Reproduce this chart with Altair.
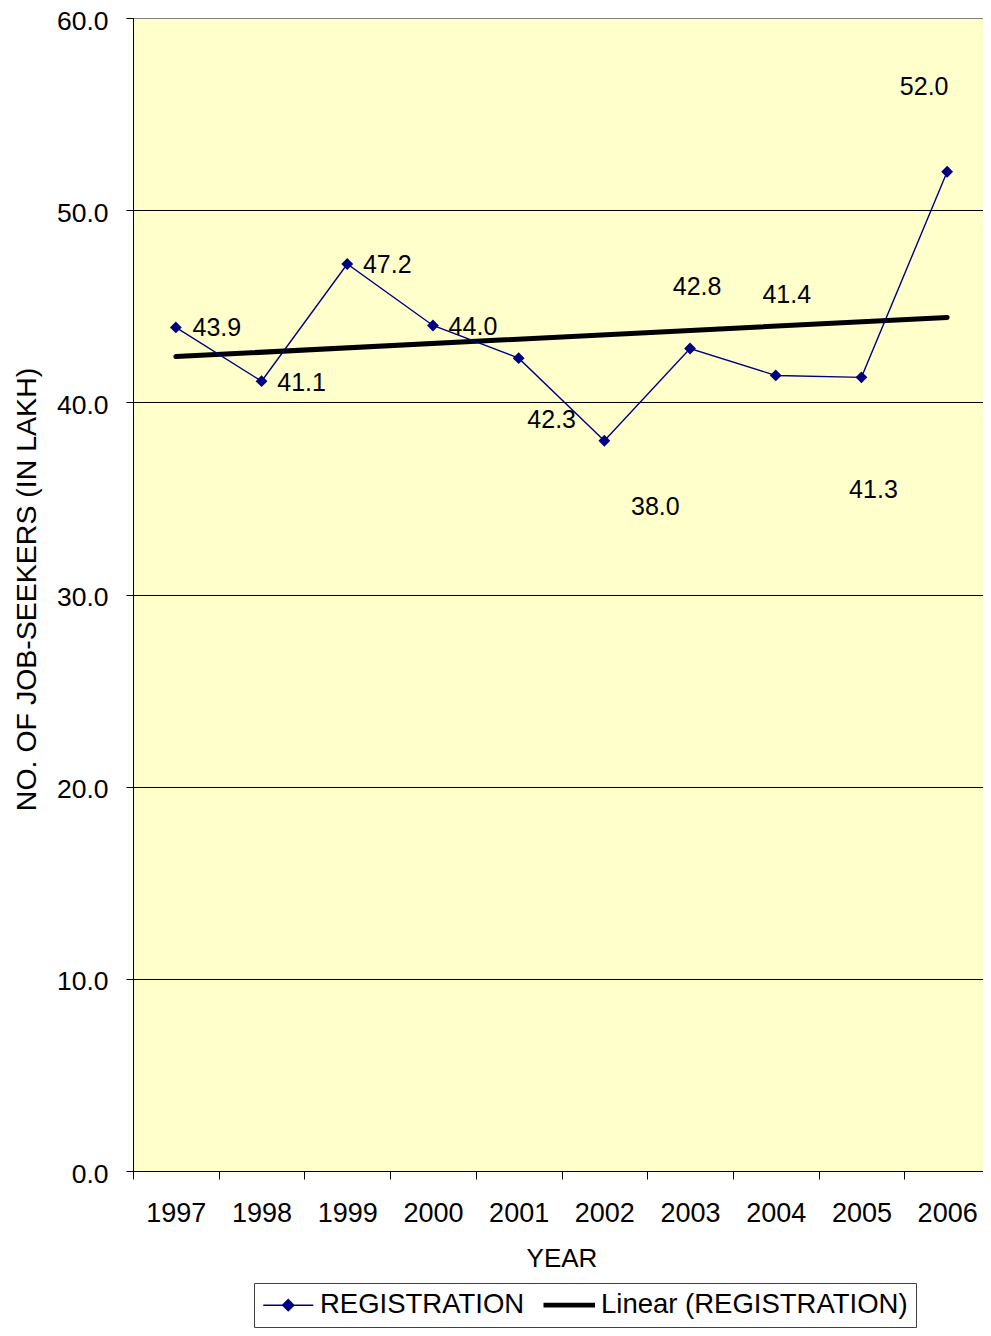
import altair as alt
import pandas as pd

# -----------------------------
# DATA
# -----------------------------
years = ["1997", "1998", "1999", "2000", "2001", "2002", "2003", "2004", "2005", "2006"]
registration = [43.9, 41.1, 47.2, 44.0, 42.3, 38.0, 42.8, 41.4, 41.3, 52.0]
y_ticks = [0, 10, 20, 30, 40, 50, 60]
series_names = ["REGISTRATION", "Linear (REGISTRATION)"]

# label offsets (px) of each value label from its marker, as placed in the original
label_dx = [41, 40, 40, 40, 33, 51, 7, 11, 12, -23]
label_dy = [1, 2, 1, 2, 62, 66, -62, -80, 113, -85]

FONT = "Liberation Sans"
NAVY = "#000080"

df = pd.DataFrame({"year": years, "value": registration})
df["series"] = series_names[0]

# -----------------------------
# SCALES / AXES
# -----------------------------
x_scale = alt.Scale(type="band", domain=years, paddingInner=0, paddingOuter=0)
y_scale = alt.Scale(domain=[0, 60], nice=False)

x_axis = alt.Axis(
    title="YEAR",
    labelAngle=0,
    labelFontSize=27,
    tickBand="extent",
    tickSize=8,
    labelPadding=21,
    grid=False,
    domainColor="black",
    tickColor="black",
    titleY=95,
    titleBaseline="alphabetic",
    titleFontSize=26,
)
y_axis = alt.Axis(
    title="NO. OF JOB-SEEKERS (IN  LAKH)",
    values=y_ticks,
    format=".1f",
    labelFontSize=26.5,
    labelOffset=3,
    tickSize=7,
    labelPadding=18,
    grid=True,
    gridColor={"condition": {"test": "datum.value >= 60", "value": "#808080"}, "value": "black"},
    gridWidth=1,
    domainColor="black",
    tickColor="black",
    titleX=-107,
    titleY=571,
    titleBaseline="middle",
    titleFontSize=28.5,
)

# legend symbols: custom paths, unit r = sqrt(symbolSize) / 2 = 12.5px
REG_SYMBOL = "M-2,0L2,0M-0.44,0L0,-0.44L0.44,0L0,0.44Z"
TREND_SYMBOL = "M-2,-0.13L2,-0.13L2,0.13L-2,0.13Z"

legend = alt.Legend(
    title=None,
    orient="none",
    legendX=121,
    legendY=1265,
    direction="horizontal",
    strokeColor="#404040",
    padding=8,
    labelFont=FONT,
    labelFontSize=27.5,
    labelColor="black",
    labelLimit=500,
    labelOffset=18,
    columnPadding=16,
    symbolSize=625,
    symbolOffset=12.5,
    symbolStrokeWidth=1.5,
    symbolType={"expr": f"datum.value == 'REGISTRATION' ? '{REG_SYMBOL}' : '{TREND_SYMBOL}'"},
    symbolFillColor={"expr": "datum.value == 'REGISTRATION' ? '#000080' : '#000000'"},
)
color = alt.Color(
    "series:N",
    scale=alt.Scale(domain=series_names, range=[NAVY, "black"]),
    legend=legend,
)

base = alt.Chart(df).encode(
    x=alt.X("year:O", scale=x_scale, axis=x_axis, bandPosition=0.5),
    y=alt.Y("value:Q", scale=y_scale, axis=y_axis),
)

# -----------------------------
# LAYERS
# -----------------------------
line = base.mark_line(strokeWidth=1.4).encode(color=color)

points = base.mark_point(shape="diamond", filled=True, size=140, color=NAVY, opacity=1)

trend = base.transform_calculate(
    yr="toNumber(datum.year)"
).transform_regression(
    "yr", "value", method="linear"
).transform_calculate(
    year="toString(datum.yr)",
    series="'Linear (REGISTRATION)'",
).mark_line(strokeWidth=5, strokeCap="round").encode(color=color)

labels = []
for yr, dx, dy in zip(years, label_dx, label_dy):
    labels.append(
        base.transform_filter(f"datum.year == '{yr}'")
        .mark_text(font=FONT, fontSize=25, color="black", align="center", dx=dx, dy=dy)
        .encode(text=alt.Text("value:Q", format=".1f"))
    )

chart = alt.layer(trend, line, points, *labels).properties(
    width=857,
    height=1153,
    autosize=alt.AutoSizeParams(type="none"),
    padding={"left": 125, "top": 10, "right": -7, "bottom": 157},
).configure_view(
    fill="#FFFFCC",
    stroke="#808080",
    strokeWidth=1,
).configure_axis(
    labelFont=FONT,
    labelColor="black",
    titleFont=FONT,
    titleFontWeight="normal",
    titleColor="black",
    domainWidth=1,
    tickWidth=1,
)

chart.save("out.html", embed_options={"renderer": "svg", "actions": False})
